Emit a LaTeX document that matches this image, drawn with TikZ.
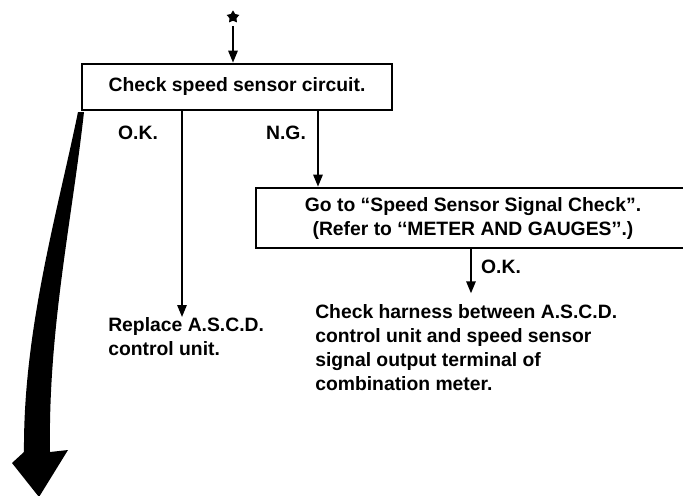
\documentclass[tikz,border=0pt]{standalone}
\usepackage{fontspec}
\setmainfont{Liberation Sans}
\usepackage{tikz}
\usetikzlibrary{arrows.meta,shapes.geometric}
\tikzset{
  box/.style={draw,line width=2pt,inner sep=0pt,align=center},
  txt/.style={font=\bfseries\fontsize{14.5}{18}\selectfont,inner sep=0pt},
  flow/.style={line width=1.4pt,-{Triangle[length=9pt,width=7pt]}},
}

\begin{document}
\begin{tikzpicture}[x=0.75pt,y=-0.75pt]
  \useasboundingbox (0,0) rectangle (683,496);
  % steps
  \node[star,star points=5,star point ratio=1.8,fill,minimum size=10pt,inner sep=0pt] (start) at (233,17) {};
  \node[box,txt,minimum width=232.5pt,minimum height=34.5pt] (sensor) at (237,87) {Check speed sensor circuit.};
  \node[box,txt,minimum width=325.5pt,minimum height=45pt] (signal) at (473,218)
     {Go to ``Speed Sensor Signal Check''.\\(Refer to `‘METER AND GAUGES’'.)};
  \node[txt,align=left,anchor=north west] (replace) at (108,317) {Replace A.S.C.D.\\control unit.};
  \node[txt,align=left,anchor=north west] (harness) at (315,304)
     {Check harness between A.S.C.D.\\control unit and speed sensor\\signal output terminal of\\combination meter.};
  % labels
  \node[txt] (ok1) at (138,133) {O.K.};
  \node[txt] (ng) at (286,133) {N.G.};
  \node[txt] (ok2) at (501,267) {O.K.};
  \coordinate (okA) at (182,110);
  \coordinate (ngA) at (318,110);
  \coordinate (okB) at (471,248);
  % connectors
  \draw[flow,shorten <=4pt] (start.south) -- (start.south |- sensor.north);
  \draw[flow] (okA) -- (okA |- replace.north);
  \draw[flow] (ngA) -- (ngA |- signal.north);
  \draw[flow,shorten >=8pt] (okB) -- (okB |- harness.north);
  % big arrow
  \fill (78,112) .. controls (58,210) and (23,330) .. (24,452) -- (12,463)
     -- (39,497) -- (68,450) -- (50,452) .. controls (48,330) and (72,220) .. (84,112) -- cycle;
\end{tikzpicture}
\end{document}
